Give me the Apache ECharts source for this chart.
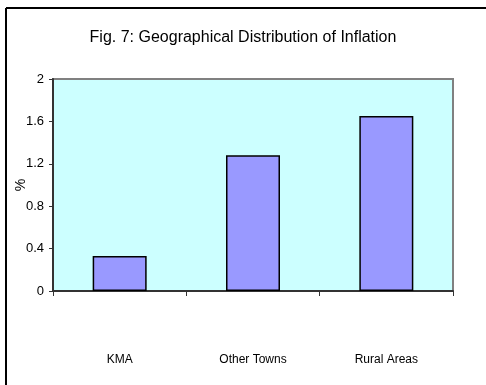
<!DOCTYPE html>
<html>
<head>
<meta charset="utf-8">
<style>
  html, body { margin: 0; padding: 0; background: #ffffff; }
  #chart { width: 486px; height: 385px; }
</style>
<script src="https://cdn.jsdelivr.net/npm/echarts@6/dist/echarts.min.js"></script>
</head>
<body>
<div id="chart"></div>
<script>
// Inflation by area, percent
const categories = ['KMA', 'Other Towns', 'Rural Areas'];
const inflation = [0.33, 1.28, 1.65];
const yMin = 0, yMax = 2, yStep = 0.4;

const chart = echarts.init(document.getElementById('chart'), null, { renderer: 'canvas' });

const font = '"Liberation Sans", Arial, sans-serif';

chart.setOption({
  backgroundColor: '#ffffff',
  animation: false,
  title: {
    text: 'Fig. 7: Geographical Distribution of Inflation',
    left: 'center',
    top: 25,
    textStyle: { fontFamily: font, fontSize: 16, fontWeight: 'normal', color: '#000000' }
  },
  graphic: [
    // chart-area frame along the top and left edges
    { type: 'line', shape: { x1: 6, y1: 8, x2: 486, y2: 8 }, style: { stroke: '#000', lineWidth: 2 } },
    { type: 'line', shape: { x1: 6, y1: 8, x2: 6, y2: 385 }, style: { stroke: '#000', lineWidth: 2 } }
  ],
  grid: {
    left: 53, top: 79, right: 33, bottom: 94,
    outerBoundsMode: 'none',
    containLabel: false,
    show: true,
    backgroundColor: '#CCFFFF',
    borderColor: '#808080',
    borderWidth: 2
  },
  xAxis: {
    type: 'category',
    data: categories,
    boundaryGap: true,
    axisLine: { lineStyle: { color: '#333333', width: 2 } },
    axisTick: { show: true, length: 5, lineStyle: { color: '#333333', width: 1 } },
    axisLabel: { margin: 63, fontFamily: font, fontSize: 12, color: '#000000' }
  },
  yAxis: {
    type: 'value',
    min: yMin, max: yMax, interval: yStep,
    name: '%',
    nameLocation: 'middle',
    nameGap: 25,
    nameRotate: 90,
    nameMoveOverlap: false,
    nameTextStyle: { fontFamily: font, fontSize: 14, color: '#000000' },
    splitLine: { show: false },
    axisLine: { show: true, lineStyle: { color: '#333333', width: 2 } },
    axisTick: { show: true, length: 4, lineStyle: { color: '#333333', width: 1 } },
    axisLabel: { margin: 9, fontFamily: font, fontSize: 13, color: '#000000' }
  },
  series: [{
    type: 'bar',
    data: inflation,
    barWidth: 54,
    itemStyle: { color: '#9999FF', borderColor: '#000000', borderWidth: 1.5 }
  }]
});
</script>
</body>
</html>
